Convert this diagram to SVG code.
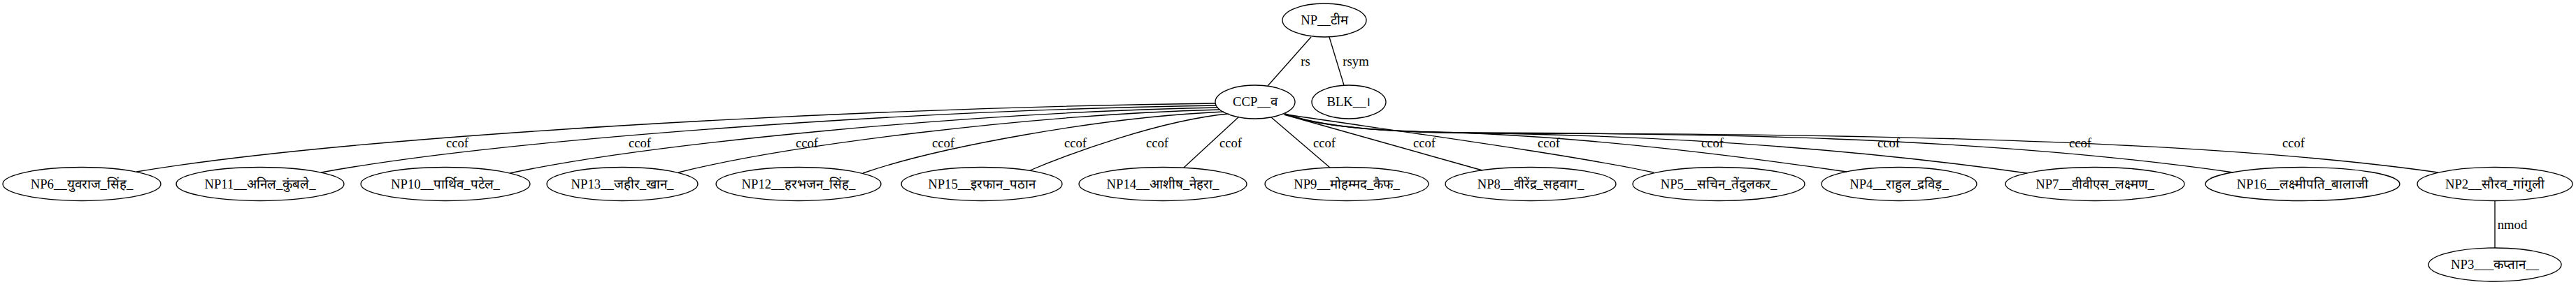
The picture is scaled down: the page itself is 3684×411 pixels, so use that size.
<svg xmlns="http://www.w3.org/2000/svg" width="3684" height="411" viewBox="0 0 3684 411">
<style>
.n ellipse{fill:none;stroke:#000;stroke-width:1.33}
.n text,.l{font-family:"Liberation Serif","Times New Roman",serif;font-size:18.67px;fill:#000;text-anchor:middle}
#edges path{fill:none;stroke:#000;stroke-width:1.33}
</style>
<rect width="3684" height="411" fill="#fff"/>
<g id="edges">
<path d="M1875,53 L1813,123"/>
<path d="M1901,53 L1922,122"/>
<path d="M1738,148 C1200,155 500,195 195,246"/>
<path d="M1739,151 C1291,158 715,200 459,247"/>
<path d="M1742,154 C1387,161 932,205 729,248"/>
<path d="M1745,157 C1474,164 1125,208 970,247"/>
<path d="M1750,160 C1570,168 1337,212 1234,248"/>
<path d="M1757,163 C1660,172 1530,220 1473,244"/>
<path d="M1772,167 C1750,187 1715,220 1693,240"/>
<path d="M1818,168 L1902,240"/>
<path d="M1836,164 L2120,244"/>
<path d="M1840,164 C2000,188 2250,222 2365,247"/>
<path d="M1838,163 C1880,178 1950,187 2050,189 C2150,191 2341,202 2641,246"/>
<path d="M1838,163 C1880,179 1960,188 2080,190 C2250,192 2560,200 2899,248"/>
<path d="M1838,163 C1880,180 1970,189 2100,190 C2400,191 2830,194 3194,247"/>
<path d="M1838,163 C1880,181 1980,190 2120,191 C2500,191 3120,194 3487,247"/>
<path d="M3568,287 L3568,355"/>
<text class="l" x="1867" y="94">rs</text>
<text class="l" x="1939" y="94">rsym</text>
<text class="l" x="654" y="211">ccof</text>
<text class="l" x="915" y="211">ccof</text>
<text class="l" x="1154" y="211">ccof</text>
<text class="l" x="1349" y="211">ccof</text>
<text class="l" x="1538" y="211">ccof</text>
<text class="l" x="1655" y="211">ccof</text>
<text class="l" x="1760" y="211">ccof</text>
<text class="l" x="1894" y="211">ccof</text>
<text class="l" x="2037" y="211">ccof</text>
<text class="l" x="2215" y="211">ccof</text>
<text class="l" x="2449" y="211">ccof</text>
<text class="l" x="2701" y="211">ccof</text>
<text class="l" x="2975" y="211">ccof</text>
<text class="l" x="3280" y="211">ccof</text>
<text class="l" x="3593" y="328">nmod</text>
</g>
<g id="NP_team" class="n"><ellipse cx="1894" cy="29" rx="60" ry="24"/><text x="1894" y="35">NP__टीम</text></g>
<g id="CCP_va" class="n"><ellipse cx="1795" cy="146" rx="57" ry="24"/><text x="1795" y="152">CCP__व</text></g>
<g id="BLK" class="n"><ellipse cx="1929" cy="146" rx="53" ry="24"/><text x="1929" y="152">BLK__।</text></g>
<g id="NP6" class="n"><ellipse cx="117" cy="263.5" rx="113" ry="24"/><text x="117" y="269.5">NP6__युवराज_सिंह_</text></g>
<g id="NP11" class="n"><ellipse cx="372" cy="263.5" rx="120" ry="24"/><text x="372" y="269.5">NP11__अनिल_कुंबले_</text></g>
<g id="NP10" class="n"><ellipse cx="637" cy="263.5" rx="121" ry="24"/><text x="637" y="269.5">NP10__पार्थिव_पटेल_</text></g>
<g id="NP13" class="n"><ellipse cx="890" cy="263.5" rx="108" ry="24"/><text x="890" y="269.5">NP13__जहीर_खान_</text></g>
<g id="NP12" class="n"><ellipse cx="1142" cy="263.5" rx="118" ry="24"/><text x="1142" y="269.5">NP12__हरभजन_सिंह_</text></g>
<g id="NP15" class="n"><ellipse cx="1404" cy="263.5" rx="115" ry="24"/><text x="1404" y="269.5">NP15__इरफान_पठान</text></g>
<g id="NP14" class="n"><ellipse cx="1663" cy="263.5" rx="120" ry="24"/><text x="1663" y="269.5">NP14__आशीष_नेहरा_</text></g>
<g id="NP9" class="n"><ellipse cx="1926" cy="263.5" rx="117" ry="24"/><text x="1926" y="269.5">NP9__मोहम्मद_कैफ_</text></g>
<g id="NP8" class="n"><ellipse cx="2189" cy="263.5" rx="122" ry="24"/><text x="2189" y="269.5">NP8__वीरेंद्र_सहवाग_</text></g>
<g id="NP5" class="n"><ellipse cx="2458" cy="263.5" rx="123" ry="24"/><text x="2458" y="269.5">NP5__सचिन_तेंदुलकर_</text></g>
<g id="NP4" class="n"><ellipse cx="2716" cy="263.5" rx="111" ry="24"/><text x="2716" y="269.5">NP4__राहुल_द्रविड़_</text></g>
<g id="NP7" class="n"><ellipse cx="2996" cy="263.5" rx="128" ry="24"/><text x="2996" y="269.5">NP7__वीवीएस_लक्ष्मण_</text></g>
<g id="NP16" class="n"><ellipse cx="3293" cy="263.5" rx="139" ry="24"/><text x="3293" y="269.5">NP16__लक्ष्मीपति_बालाजी</text></g>
<g id="NP2" class="n"><ellipse cx="3568" cy="263.5" rx="111" ry="24"/><text x="3568" y="269.5">NP2__सौरव_गांगुली</text></g>
<g id="NP3" class="n"><ellipse cx="3568" cy="379" rx="95" ry="24"/><text x="3568" y="385">NP3___कप्तान__</text></g>
</svg>
